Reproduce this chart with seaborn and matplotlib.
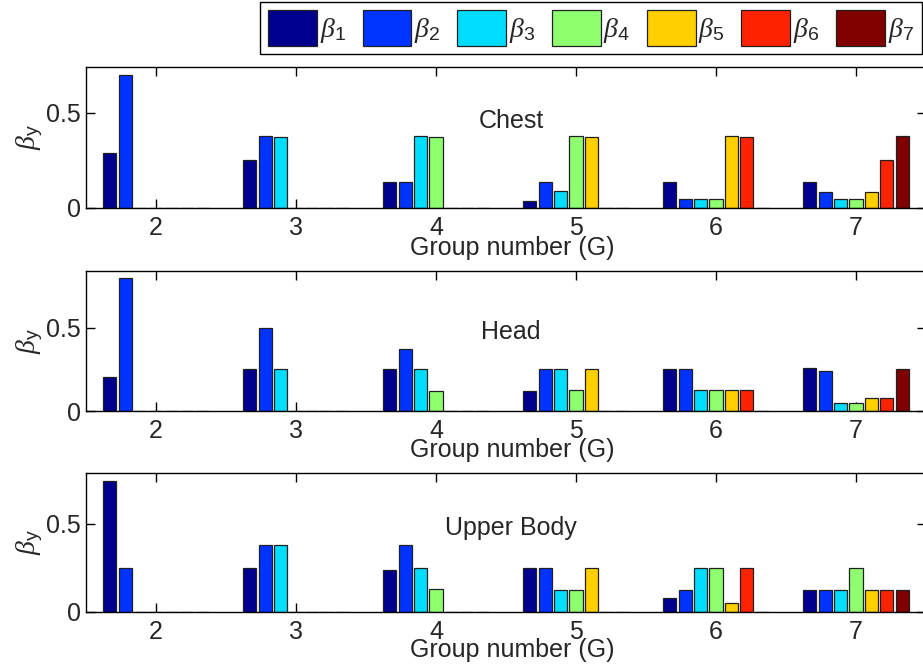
import numpy as np
import pandas as pd
import matplotlib
matplotlib.use("Agg")
import matplotlib.pyplot as plt
import seaborn as sns

# Données
groups = ["2", "3", "4", "5", "6", "7"]
betas = [r"$\beta_{\mathrm{%d}}$" % i for i in range(1, 8)]
colors = ["#00008F", "#0033FF", "#00DDFF", "#8FFF70", "#FFCF00", "#FF2200", "#800000"]

# une ligne par groupe G, colonnes beta_1..beta_7
chest = [
    [0.288, 0.700, 0, 0, 0, 0, 0],
    [0.253, 0.377, 0.370, 0, 0, 0, 0],
    [0.137, 0.137, 0.377, 0.370, 0, 0, 0],
    [0.035, 0.135, 0.091, 0.377, 0.370, 0, 0],
    [0.137, 0.049, 0.049, 0.049, 0.377, 0.370, 0],
    [0.137, 0.086, 0.049, 0.049, 0.086, 0.253, 0.377],
]
head = [
    [0.203, 0.800, 0, 0, 0, 0, 0],
    [0.253, 0.500, 0.253, 0, 0, 0, 0],
    [0.253, 0.375, 0.253, 0.122, 0, 0, 0],
    [0.122, 0.253, 0.253, 0.128, 0.253, 0, 0],
    [0.253, 0.253, 0.125, 0.125, 0.125, 0.125, 0],
    [0.261, 0.239, 0.048, 0.048, 0.080, 0.080, 0.253],
]
upper_body = [
    [0.745, 0.250, 0, 0, 0, 0, 0],
    [0.250, 0.378, 0.378, 0, 0, 0, 0],
    [0.239, 0.378, 0.250, 0.128, 0, 0, 0],
    [0.250, 0.250, 0.125, 0.125, 0.250, 0, 0],
    [0.081, 0.125, 0.250, 0.250, 0.051, 0.250, 0],
    [0.125, 0.125, 0.125, 0.250, 0.125, 0.125, 0.125],
]

panels = [
    ("Chest", chest, 0.74, 0.567, -0.333),
    ("Head", head, 0.843, 0.512, -0.329),
    ("Upper Body", upper_body, 0.79, 0.554, -0.322),
]

sns.set_theme(style="white")
plt.rcParams["font.family"] = ["Liberation Sans", "DejaVu Sans"]
plt.rcParams["mathtext.fontset"] = "custom"
plt.rcParams["mathtext.rm"] = "Liberation Sans"
plt.rcParams["mathtext.it"] = "Liberation Serif:italic"
plt.rcParams["font.size"] = 18

fig = plt.figure(figsize=(9.23, 6.67), dpi=100)
# positions des axes (en fraction de figure)
boxes = [
    [0.0932, 0.6882, 0.910, 0.2114],
    [0.0932, 0.3838, 0.910, 0.2099],
    [0.0932, 0.0825, 0.910, 0.2084],
]

handles, labels = None, None
for i, (name, vals, ytop, txt_y, xl_y) in enumerate(panels):
    ax = fig.add_axes(boxes[i])
    rows = []
    for g, row in zip(groups, vals):
        for b, v in zip(betas, row):
            rows.append({"G": g, "beta": b, "value": v})
    df = pd.DataFrame(rows)
    sns.barplot(data=df, x="G", y="value", hue="beta", order=groups,
                hue_order=betas, palette=colors, width=0.77, gap=0.15,
                edgecolor="#202020", linewidth=0.9, saturation=1,
                errorbar=None, legend=(i == 0), ax=ax)
    if i == 0:
        handles, labels = ax.get_legend_handles_labels()
        ax.get_legend().remove()

    ax.set_xlim(-0.5, 5.5)
    ax.set_ylim(0, ytop)
    ax.set_yticks([0, 0.5])
    ax.set_yticklabels(["0", "0.5"])
    for s in ax.spines.values():
        s.set_visible(True)
        s.set_color("black")
        s.set_linewidth(1.0)
    ax.tick_params(axis="x", direction="in", length=6.5, width=1, top=True,
                   bottom=True, pad=5.5, labelsize=18, color="black")
    ax.tick_params(axis="y", direction="in", length=6.5, width=1, left=True,
                   right=True, pad=3.5, labelsize=18, color="black")

    ax.set_xlabel("Group number (G)", fontsize=18)
    ax.xaxis.label.set_va("baseline")
    ax.xaxis.set_label_coords(0.508, xl_y)
    ax.set_ylabel(r"$\beta_{\mathrm{y}}$", fontsize=20)
    ax.yaxis.label.set_va("center")
    ax.yaxis.set_label_coords(-0.067, 0.5)

    ax.text(0.506, txt_y, name, transform=ax.transAxes, ha="center",
            va="baseline", fontsize=18)

leg = fig.legend(handles, labels, loc="upper right", bbox_to_anchor=(0.999, 0.997),
                 ncol=7, fontsize=20, frameon=True, fancybox=False,
                 handlelength=1.76, handleheight=1.6, handletextpad=0.1,
                 columnspacing=0.6, borderpad=0.3, borderaxespad=0)
leg.get_frame().set_edgecolor("black")
leg.get_frame().set_linewidth(1.0)
leg.get_frame().set_alpha(1)

fig.savefig("out.png", dpi=100)
